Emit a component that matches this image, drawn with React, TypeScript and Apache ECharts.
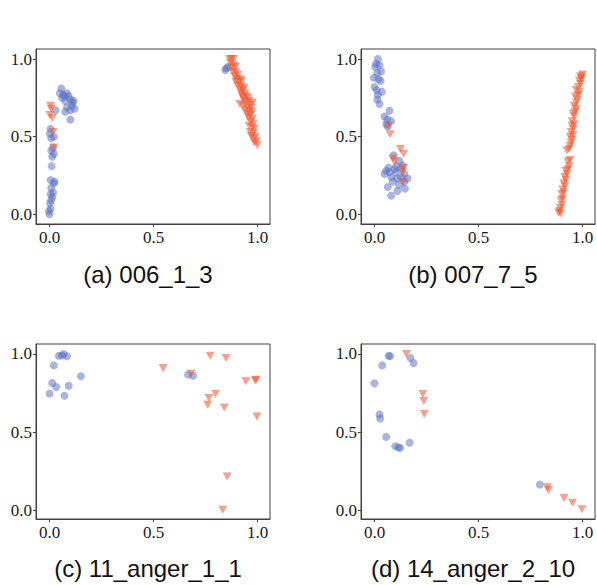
import React, { useEffect, useRef } from "react";
import * as echarts from "echarts";

const tickValues = [0, 0.5, 1];
const captions = ["(a) 006_1_3", "(b) 007_7_5", "(c) 11_anger_1_1", "(d) 14_anger_2_10"];

const blueA: number[][] = [
  [0, 0.0], [-0.003, 0.02], [0.005, 0.035], [0.002, 0.07], [0.008, 0.09], [0.013, 0.11], [0.005, 0.13],
  [0.017, 0.14], [0.008, 0.17], [0.021, 0.2], [0.005, 0.22], [0.024, 0.21], [0.01, 0.31], [0.013, 0.37],
  [0.021, 0.39], [0.008, 0.41], [0.017, 0.43], [0.008, 0.49], [0.021, 0.5], [0.002, 0.52], [0.005, 0.55],
  [0.029, 0.67],
  [0.057, 0.81], [0.05, 0.78], [0.068, 0.77], [0.084, 0.78], [0.092, 0.76], [0.076, 0.73], [0.1, 0.74],
  [0.108, 0.7], [0.116, 0.73], [0.084, 0.69], [0.1, 0.67], [0.076, 0.66], [0.1, 0.61], [0.12, 0.68],
  [0.06, 0.75], [0.07, 0.76], [0.11, 0.72],
  [0.845, 0.93], [0.857, 0.95], [0.85, 0.94],
];
const orangeA: number[][] = [
  [0.005, 0.7], [0.008, 0.68], [0.002, 0.64], [0.013, 0.62], [0.017, 0.53], [0.021, 0.43],
  [0.865, 1.0], [0.875, 1.0], [0.885, 1.0],
  [0.87, 0.975], [0.885, 0.96], [0.875, 0.945], [0.895, 0.95],
  [0.88, 0.92], [0.895, 0.915], [0.905, 0.9], [0.89, 0.89],
  [0.9, 0.875], [0.915, 0.87], [0.895, 0.855], [0.91, 0.85], [0.925, 0.86],
  [0.905, 0.83], [0.92, 0.825], [0.935, 0.815], [0.915, 0.805], [0.93, 0.8],
  [0.92, 0.785], [0.94, 0.78], [0.925, 0.765], [0.945, 0.76], [0.93, 0.75], [0.955, 0.75],
  [0.935, 0.735], [0.96, 0.73], [0.975, 0.72], [0.945, 0.72], [0.915, 0.71], [0.965, 0.705], [0.93, 0.7],
  [0.95, 0.69], [0.97, 0.685], [0.94, 0.67], [0.96, 0.665], [0.975, 0.66], [0.95, 0.65],
  [0.965, 0.64], [0.955, 0.625], [0.975, 0.615], [0.965, 0.6],
  [0.98, 0.585], [0.96, 0.57], [0.975, 0.56], [0.985, 0.55],
  [0.965, 0.53], [0.98, 0.52], [0.97, 0.505], [0.99, 0.5], [0.98, 0.485], [0.995, 0.47], [0.985, 0.46], [1.0, 0.445],
];

const blueB: number[][] = [
  [0.016, 1.0], [0.008, 0.97], [0.024, 0.96], [0.003, 0.95], [0.032, 0.92], [0.013, 0.91], [-0.003, 0.88],
  [0.019, 0.87], [0.029, 0.86], [0.0, 0.82], [0.01, 0.8], [0.035, 0.79], [0.016, 0.77], [0.013, 0.74],
  [0.024, 0.71],
  [0.072, 0.667], [0.048, 0.63], [0.061, 0.61], [0.08, 0.6], [0.056, 0.58], [0.064, 0.565],
  [0.08, 0.12], [0.064, 0.175], [0.11, 0.15], [0.146, 0.165], [0.048, 0.26], [0.08, 0.24], [0.104, 0.27],
  [0.127, 0.295], [0.067, 0.3], [0.092, 0.38], [0.119, 0.345], [0.135, 0.315], [0.056, 0.28], [0.127, 0.24],
  [0.088, 0.21], [0.143, 0.26], [0.11, 0.23], [0.072, 0.27], [0.104, 0.31], [0.143, 0.21], [0.159, 0.23],
  [0.096, 0.29], [0.118, 0.19],
];
const orangeB: number[][] = [
  [0.067, 0.568], [0.075, 0.516], [0.124, 0.42], [0.14, 0.39], [0.088, 0.36], [0.096, 0.34], [0.14, 0.3],
  [0.135, 0.27], [0.138, 0.21],
  [0.885, 0.01], [0.89, 0.02], [0.895, 0.005], [0.893, 0.04], [0.9, 0.06], [0.897, 0.09], [0.905, 0.1],
  [0.9, 0.13], [0.91, 0.14], [0.905, 0.16], [0.915, 0.18], [0.91, 0.2], [0.92, 0.22], [0.915, 0.24],
  [0.925, 0.26], [0.92, 0.28], [0.93, 0.29], [0.935, 0.31], [0.93, 0.34], [0.94, 0.35], [0.925, 0.41],
  [0.935, 0.42], [0.94, 0.44], [0.945, 0.46], [0.95, 0.48], [0.94, 0.5], [0.955, 0.51], [0.945, 0.53],
  [0.955, 0.55], [0.95, 0.57], [0.96, 0.58], [0.95, 0.6], [0.96, 0.63], [0.955, 0.65], [0.965, 0.66],
  [0.97, 0.68], [0.96, 0.7], [0.97, 0.72], [0.975, 0.74], [0.965, 0.76], [0.98, 0.77], [0.985, 0.79],
  [0.97, 0.8], [0.98, 0.82], [0.99, 0.84], [0.985, 0.86], [0.995, 0.87], [0.99, 0.89], [1.0, 0.9], [0.995, 0.88],
];

const blueC: number[][] = [
  [0, 0.746], [0.013, 0.814], [0.021, 0.927], [0.032, 0.788], [0.045, 0.989], [0.068, 1.0], [0.084, 0.985],
  [0.06, 0.99], [0.072, 0.733], [0.092, 0.797], [0.151, 0.857], [0.666, 0.868], [0.69, 0.861],
];
const orangeC: number[][] = [
  [0.546, 0.91], [0.68, 0.874], [0.772, 0.989], [0.849, 0.974], [0.798, 0.744], [0.766, 0.718],
  [0.761, 0.675], [0.84, 0.658], [0.944, 0.825], [0.989, 0.831], [0.993, 0.835], [0.997, 0.6],
  [0.854, 0.216], [0.833, 0.002],
];

const blueD: number[][] = [
  [0, 0.813], [0.037, 0.927], [0.068, 0.989], [0.075, 0.985], [0.024, 0.613], [0.027, 0.587],
  [0.056, 0.469], [0.1, 0.409], [0.123, 0.398], [0.115, 0.402], [0.169, 0.432], [0.172, 0.974],
  [0.188, 0.942], [0.795, 0.163],
];
const orangeD: number[][] = [
  [0.153, 1.0], [0.232, 0.744], [0.237, 0.699], [0.239, 0.615], [0.831, 0.146], [0.836, 0.129],
  [0.911, 0.077], [0.952, 0.047], [0.997, 0.006],
];

const panels = [
  { blue: blueA, orange: orangeA },
  { blue: blueB, orange: orangeB },
  { blue: blueC, orange: orangeC },
  { blue: blueD, orange: orangeD },
];

const grids = [
  { left: 36, top: 49, width: 234, height: 175 },
  { left: 361, top: 49, width: 234, height: 175 },
  { left: 36, top: 344, width: 234, height: 175 },
  { left: 361, top: 344, width: 234, height: 175 },
];
const yRanges = [
  [-0.063, 1.065],
  [-0.063, 1.065],
  [-0.057, 1.064],
  [-0.057, 1.064],
];
const captionPos = [
  [148, 274],
  [473, 274],
  [148, 568],
  [473, 568],
];

const frame = "#404040";
const invTriangle = "path://M0,0L10,0L5,8.66Z";

export default function App() {
  const ref = useRef<HTMLDivElement>(null);
  useEffect(() => {
    document.body.style.margin = "0";
    const chart = echarts.init(ref.current!, undefined, { renderer: "svg" });
    const series: any[] = [];
    panels.forEach((p, i) => {
      series.push({
        type: "scatter",
        xAxisIndex: i,
        yAxisIndex: i,
        data: p.blue,
        symbol: "circle",
        symbolSize: 8,
        itemStyle: { color: "rgba(90,114,196,0.65)" },
      });
      series.push({
        type: "scatter",
        xAxisIndex: i,
        yAxisIndex: i,
        data: p.orange,
        symbol: invTriangle,
        symbolSize: [9, 8],
        itemStyle: { color: "rgba(240,88,46,0.7)" },
      });
    });
    const xAxis: any[] = [];
    const yAxis: any[] = [];
    for (let i = 0; i < 4; i++) {
      xAxis.push({
        gridIndex: i,
        type: "value",
        min: -0.065,
        max: 1.06,
        splitNumber: 2,
        axisLine: { show: true, onZero: false, lineStyle: { color: frame } },
        axisTick: { show: true, customValues: tickValues, length: 3, lineStyle: { color: frame } },
        splitLine: { show: false },
        axisLabel: {
          color: "#1a1a1a",
          fontSize: 17,
          fontFamily: "Liberation Serif",
          margin: 5,
          showMinLabel: false,
          showMaxLabel: false,
          formatter: (v: number) => v.toFixed(1),
        },
      });
      yAxis.push({
        gridIndex: i,
        type: "value",
        min: yRanges[i][0],
        max: yRanges[i][1],
        splitNumber: 2,
        axisLine: { show: true, onZero: false, lineStyle: { color: frame } },
        axisTick: { show: true, customValues: tickValues, length: 3, lineStyle: { color: frame } },
        splitLine: { show: false },
        axisLabel: {
          color: "#1a1a1a",
          fontSize: 17,
          fontFamily: "Liberation Serif",
          margin: 4,
          showMinLabel: false,
          showMaxLabel: false,
          formatter: (v: number) => v.toFixed(1),
        },
      });
    }
    chart.setOption({
      animation: false,
      grid: grids.map((g) => ({ ...g, show: true, borderColor: frame, borderWidth: 1, backgroundColor: "transparent" })),
      xAxis,
      yAxis,
      series,
      graphic: captions.map((t, i) => ({
        type: "text",
        x: captionPos[i][0],
        y: captionPos[i][1],
        style: {
          text: t,
          fontFamily: "Liberation Sans",
          fontSize: 24,
          fill: "#111",
          align: "center",
          verticalAlign: "middle",
        },
      })),
    });
    return () => chart.dispose();
  }, []);
  return <div ref={ref} style={{ position: "absolute", left: 0, top: 0, width: 597, height: 585 }} />;
}
